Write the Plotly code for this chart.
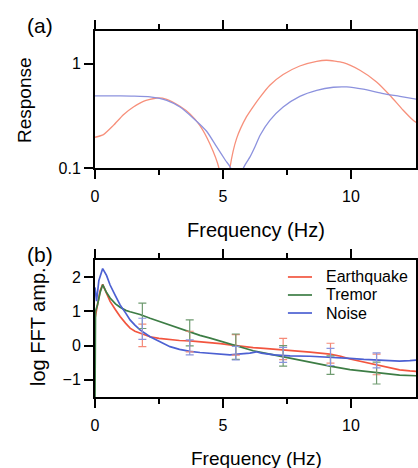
import plotly.graph_objects as go

# ---------------- Panel (a): response functions ----------------
resp_red_x = [0, 0.33, 0.72, 1.11, 1.5, 1.89, 2.41, 2.8, 3.32, 3.71, 4.1, 4.49, 4.84, 5.05,
              5.27, 5.53, 5.92, 6.25, 6.45, 6.83, 7.35, 8.0, 8.66, 9.05, 9.7, 10.35, 11.0,
              11.52, 12.04, 12.43, 12.56]
resp_red_y = [0.197, 0.209, 0.256, 0.324, 0.384, 0.435, 0.468, 0.455, 0.39, 0.33, 0.255, 0.17,
              0.1, 0.03, 0.1, 0.191, 0.31, 0.41, 0.478, 0.62, 0.785, 0.948, 1.05, 1.076,
              1.02, 0.863, 0.667, 0.497, 0.357, 0.286, 0.272]

resp_blue_x = [0, 0.5, 1.0, 1.5, 2.15, 2.8, 3.32, 3.84, 4.36, 4.75, 5.1, 5.3, 5.55,
               5.8, 6.05, 6.25, 6.45, 6.83, 7.35, 8.0, 8.66, 9.31, 9.83, 10.48, 11.26,
               11.91, 12.56]
resp_blue_y = [0.49, 0.49, 0.49, 0.488, 0.48, 0.445, 0.384, 0.30, 0.225, 0.16, 0.118, 0.1,
               0.03, 0.1, 0.127, 0.16, 0.206, 0.286, 0.384, 0.486, 0.555, 0.593,
               0.597, 0.568, 0.516, 0.486, 0.455]

# ---------------- Panel (b): log FFT amplitude ----------------
eq_x = [0, 0.1, 0.2, 0.3, 0.4, 0.59, 0.8, 0.98, 1.2, 1.37, 1.56, 1.76, 2.15, 2.5, 2.93, 3.3,
        3.71, 4.1, 4.5, 4.9, 5.27, 5.7, 6.18, 6.6, 7.0, 7.62, 8.4, 9.18, 9.6, 9.96, 10.5, 11.0,
        11.5, 11.9, 12.3, 12.56]
eq_y = [0.8, 1.2, 1.6, 1.79, 1.62, 1.29, 1.05, 0.85, 0.65, 0.51, 0.42, 0.36, 0.26, 0.21, 0.17,
        0.15, 0.14, 0.12, 0.10, 0.06, 0.02, -0.02, -0.06, -0.08, -0.1, -0.15, -0.19, -0.25,
        -0.31, -0.39, -0.48, -0.56, -0.64, -0.71, -0.74, -0.75]

tr_x = [0, 0.02, 0.1, 0.2, 0.3, 0.45, 0.59, 0.8, 0.98, 1.2, 1.37, 1.56, 1.76, 2.15, 2.5, 2.93,
        3.3, 3.71, 4.1, 4.5, 4.9, 5.27, 5.7, 6.18, 6.83, 7.62, 8.4, 9.18, 9.96, 10.5, 11.0,
        11.5, 11.9, 12.56]
tr_y = [-1.6, 1.0, 1.2, 1.55, 1.78, 1.55, 1.39, 1.22, 1.12, 1.03, 0.99, 0.95, 0.91, 0.80, 0.71,
        0.61, 0.50, 0.39, 0.30, 0.22, 0.13, 0.04, -0.06, -0.15, -0.25, -0.37, -0.47, -0.60,
        -0.70, -0.74, -0.78, -0.83, -0.86, -0.88]

no_x = [0, 0.06, 0.15, 0.3, 0.45, 0.59, 0.8, 0.98, 1.2, 1.37, 1.56, 1.76, 2.15, 2.54, 2.93, 3.3,
        3.71, 4.1, 4.5, 4.9, 5.27, 5.7, 6.05, 6.3, 6.5, 7.0, 7.62, 8.4, 9.18, 9.96, 10.5, 11.0,
        11.5, 11.9, 12.3, 12.56]
no_y = [1.7, 1.3, 1.9, 2.25, 2.05, 1.77, 1.45, 1.19, 0.95, 0.75, 0.6, 0.46, 0.26, 0.12, -0.03,
        -0.11, -0.17, -0.2, -0.22, -0.25, -0.27, -0.24, -0.22, -0.18, -0.22, -0.27, -0.30,
        -0.31, -0.33, -0.37, -0.40, -0.42, -0.43, -0.45, -0.44, -0.42]

eb_x = [1.85, 3.7, 5.5, 7.35, 9.2, 11.0]
eq_eb_y = [0.30, 0.12, 0.02, -0.10, -0.22, -0.55]
eq_eb_err = [0.33, 0.30, 0.30, 0.31, 0.29, 0.30]
tr_eb_y = [0.87, 0.37, -0.03, -0.30, -0.57, -0.80]
tr_eb_err = [0.37, 0.38, 0.37, 0.30, 0.27, 0.32]
no_eb_y = [0.49, -0.05, -0.22, -0.27, -0.33, -0.43]
no_eb_err = [0.31, 0.22, 0.20, 0.22, 0.25, 0.22]

series_names = ["Earthquake", "Tremor", "Noise"]

x_ticks = [0, 5, 10]
x_ticktext = ["0", "5", "10"]
x_minor = [2.5, 7.5]
x_range = [0, 12.54]
ya_ticks = [0.1, 1]
ya_ticktext = ["0.1", "1"]
ya_range = [-1, 0.312]
yb_ticks = [-1, 0, 1, 2]
yb_ticktext = ["\u22121", "0", "1", "2"]
yb_range = [-1.5, 2.5]

RED_A, BLUE_A = "#f7907b", "#8c92de"
RED, GREEN, BLUE = "#f2553f", "#3d7d45", "#4c60d2"
RED_E, GREEN_E, BLUE_E = "#f58a78", "#6f9b70", "#8a95dd"
FONT = "Liberation Sans, Arial, Helvetica, sans-serif"

fig = go.Figure()

fig.add_trace(go.Scatter(x=resp_red_x, y=resp_red_y, mode="lines",
                         line=dict(color=RED_A, width=1.3, shape="spline", smoothing=0.6),
                         xaxis="x", yaxis="y"))
fig.add_trace(go.Scatter(x=resp_blue_x, y=resp_blue_y, mode="lines",
                         line=dict(color=BLUE_A, width=1.3, shape="spline", smoothing=0.6),
                         xaxis="x", yaxis="y"))

line_cols = [RED, GREEN, BLUE]
for xs, ys, col, name in zip([eq_x, tr_x, no_x], [eq_y, tr_y, no_y], line_cols, series_names):
    fig.add_trace(go.Scatter(x=xs, y=ys, mode="lines", name=name, line=dict(color=col, width=1.7),
                             xaxis="x2", yaxis="y2"))

for ys, es, col in [(eq_eb_y, eq_eb_err, RED_E), (tr_eb_y, tr_eb_err, GREEN_E), (no_eb_y, no_eb_err, BLUE_E)]:
    fig.add_trace(go.Scatter(x=eb_x, y=ys, mode="markers", marker=dict(size=2, color=col, opacity=0),
                             error_y=dict(type="data", array=es, color=col, thickness=1.2, width=4),
                             xaxis="x2", yaxis="y2"))

AX = dict(ticks="outside", ticklen=9, tickwidth=1.5, tickcolor="black",
          showgrid=False, zeroline=False, showline=True, linewidth=2, linecolor="black",
          mirror="allticks")
X_MINOR = dict(tickmode="array", tickvals=x_minor, ticks="outside", ticklen=5, tickwidth=1.5,
               tickcolor="black", showgrid=False)

fig.update_layout(
    template="none",
    width=418, height=468,
    margin=dict(l=95, r=2, t=31, b=71),
    font=dict(family=FONT, color="black", size=16),
    showlegend=False,
    xaxis=dict(AX, tickmode="array", tickvals=x_ticks, ticktext=x_ticktext, domain=[0, 1],
               anchor="y", range=x_range, ticklabelstandoff=4, minor=X_MINOR),
    yaxis=dict(AX, tickmode="array", tickvals=ya_ticks, ticktext=ya_ticktext, domain=[0.6257, 1],
               anchor="x", type="log", range=ya_range),
    xaxis2=dict(AX, tickmode="array", tickvals=x_ticks, ticktext=x_ticktext, domain=[0, 1],
                anchor="y2", range=x_range, ticklabelstandoff=4, minor=X_MINOR),
    yaxis2=dict(AX, tickmode="array", tickvals=yb_ticks, ticktext=yb_ticktext,
                domain=[0, 0.3743], anchor="x2", range=yb_range),
)

# manual legend (sample line + label), placed in paper coordinates
leg_x0, leg_x1, leg_tx = 0.601, 0.676, 0.712
leg_rows = [0.3279, 0.2787, 0.2295]
for name, col, yy in zip(series_names, line_cols, leg_rows):
    fig.add_shape(type="line", xref="paper", yref="paper", x0=leg_x0, x1=leg_x1, y0=yy, y1=yy,
                  line=dict(color=col, width=1.7))
    fig.add_annotation(text=name, x=leg_tx, y=yy, xref="paper", yref="paper", showarrow=False,
                       xanchor="left", yanchor="middle", font=dict(size=16))

titles = [
    ("Response", -0.218, 0.8115, -90, 19),
    ("log FFT amp.", -0.1776, 0.194, -90, 20),
    ("Frequency (Hz)", 0.5016, 0.4563, 0, 20),
    ("Frequency (Hz)", 0.5016, -0.1667, 0, 19),
    ("(a)", -0.171, 1.016, 0, 21),
    ("(b)", -0.171, 0.3907, 0, 21),
]
for txt, xx, yy, ang, sz in titles:
    fig.add_annotation(text=txt, x=xx, y=yy, xref="paper", yref="paper", textangle=ang,
                       showarrow=False, font=dict(size=sz), xanchor="center", yanchor="middle")

fig.write_html("out.html")
